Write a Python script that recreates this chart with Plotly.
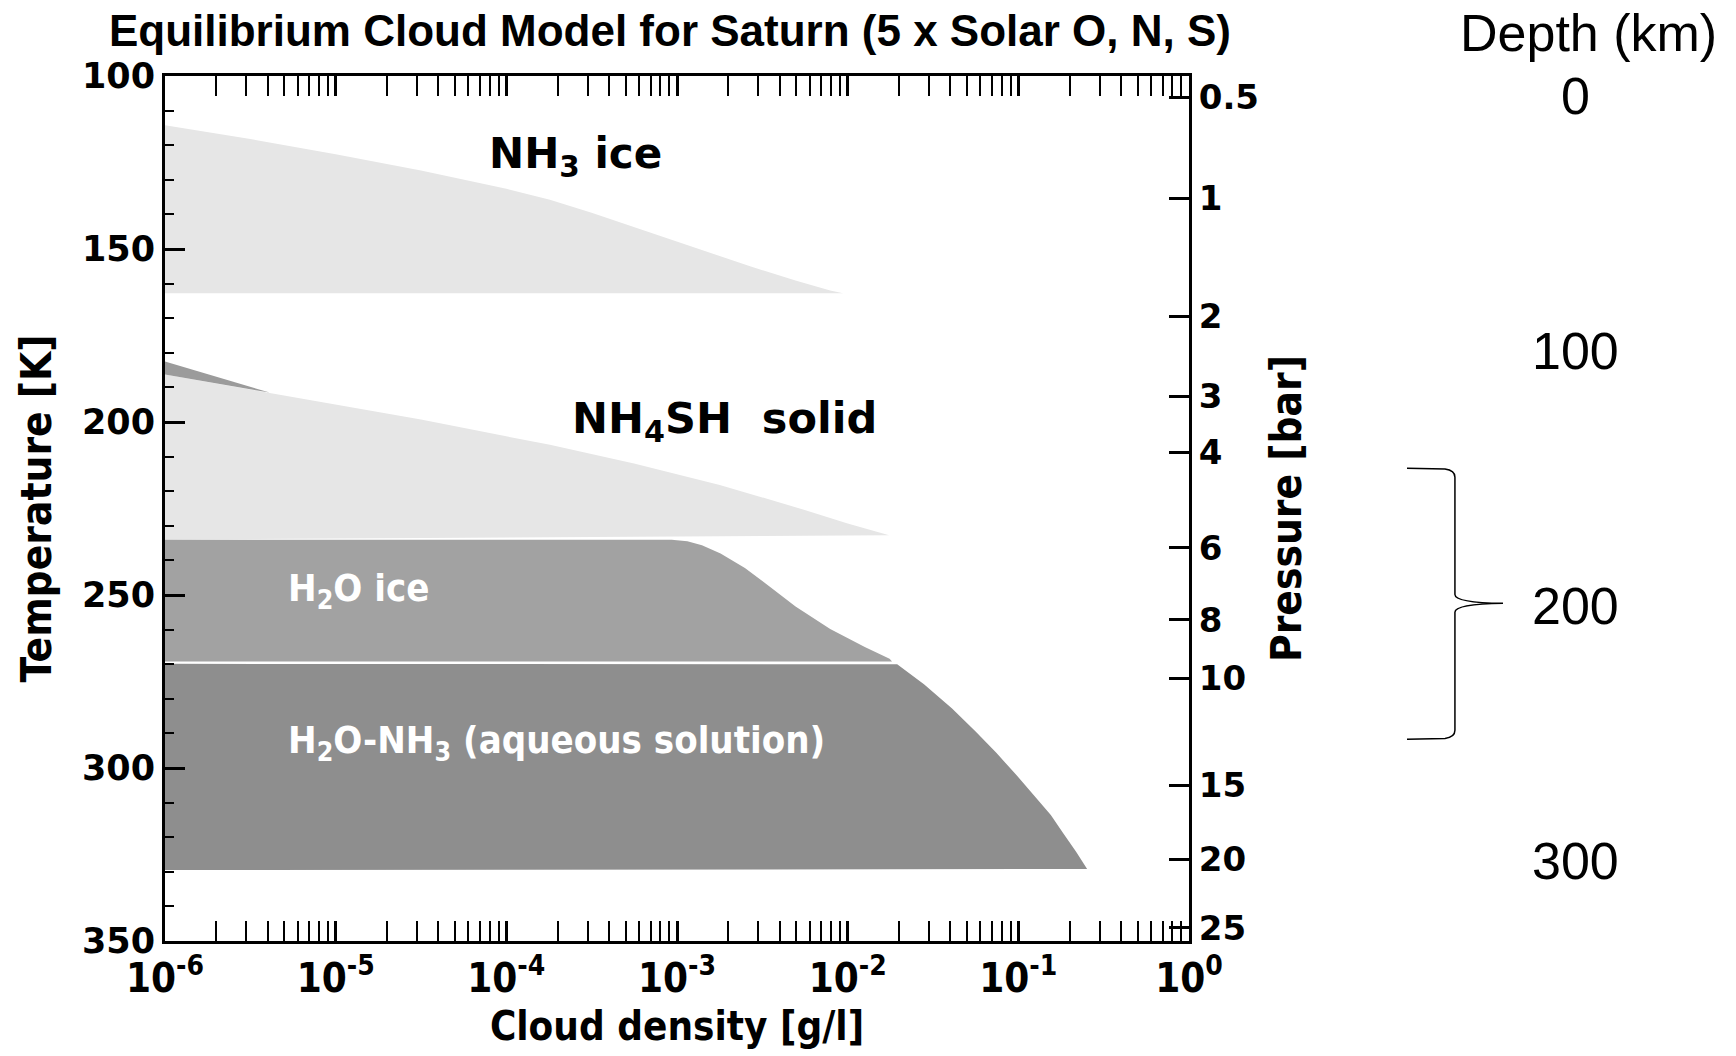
import plotly.graph_objects as go

# ---- cloud layers: density [g/l] vs temperature [K] ----
nh3_ice_density = [1.0e-6, 3.16e-6, 1.0e-5, 3.16e-5, 1.0e-4, 1.8e-4, 3.16e-4,
                   6.95e-4, 1.58e-3, 2.68e-3, 5.0e-3, 7.9e-3, 9.4e-3]
nh3_ice_top_T = [114.2, 118.2, 122.6, 127.3, 132.6, 135.8, 139.5,
                 145.2, 151.2, 155.0, 159.2, 162.0, 162.8]
nh3_ice_base_T = 162.8

nh4sh_density = [1.0e-6, 4.9e-6, 3.16e-5, 1.8e-4, 5.6e-4, 1.78e-3, 5.6e-3, 1.0e-2, 1.75e-2]
nh4sh_top_T = [186.3, 192.2, 199.3, 206.6, 212.0, 218.2, 225.4, 229.3, 232.7]
nh4sh_base_T = 234.0

nh4sh_upper_density = [1.0e-6, 4.1e-6, 1.0e-6]
nh4sh_upper_T = [182.5, 191.5, 186.3]

h2o_ice_density = [1.0e-6, 9.3e-4, 1.15e-3, 1.4e-3, 1.8e-3, 2.5e-3, 3.5e-3, 4.95e-3,
                   7.9e-3, 1.26e-2, 1.76e-2, 1.82e-2]
h2o_ice_T = [234.0, 234.0, 234.5, 235.6, 238.0, 242.2, 247.6, 253.3,
             259.8, 265.0, 268.4, 269.2]
h2o_ice_base_T = 269.2

aqueous_density = [1.0e-6, 1.95e-2, 2.8e-2, 4.09e-2, 5.6e-2, 7.43e-2, 9.8e-2,
                   0.1256, 0.155, 0.1824, 0.218, 0.253]
aqueous_T = [269.9, 270.0, 275.8, 282.8, 289.4, 295.6, 302.2,
             308.4, 313.6, 318.7, 324.2, 329.2]
aqueous_base_T = 329.5

# ---- axis ticks ----
temp_ticks = [100, 150, 200, 250, 300, 350]
density_ticks = [1e-6, 1e-5, 1e-4, 1e-3, 1e-2, 1e-1, 1e0]
density_labels = ["10<sup>-6</sup>", "10<sup>-5</sup>", "10<sup>-4</sup>", "10<sup>-3</sup>",
                  "10<sup>-2</sup>", "10<sup>-1</sup>", "10<sup>0</sup>"]
pressure_bar = ["0.5", "1", "2", "3", "4", "6", "8", "10", "15", "20", "25"]
pressure_T = [106.2, 135.3, 169.5, 192.6, 208.8, 236.4, 257.2, 274.0, 305.0, 326.3, 346.2]

depth_km = [0, 100, 200, 300]
depth_range = [331.4, -7.8]          # depth axis span over the plot height
brace_top_km, brace_mid_km, brace_bottom_km = 146.0, 199.0, 252.3

LIGHT = "#e6e6e6"
MID = "#a2a2a2"
DARK = "#8e8e8e"
SLIVER = "#9b9b9b"

HEAVY = "DejaVu Sans"
BOLD = "Liberation Sans"
NARROW = "Liberation Sans Narrow, DejaVu Sans Condensed, Liberation Sans"


def closed(xs, ys, base):
    """Close a layer outline back along its flat base."""
    return list(xs) + [xs[0]], list(ys) + [base]


fig = go.Figure()


def add_layer(xs, ys, color, name):
    fig.add_trace(go.Scatter(x=xs, y=ys, fill="toself", fillcolor=color, mode="lines",
                             line=dict(width=0, color=color), name=name,
                             hoverinfo="skip"))


add_layer(*closed(nh3_ice_density, nh3_ice_top_T, nh3_ice_base_T), LIGHT, "NH3 ice")
add_layer(*closed(nh4sh_density, nh4sh_top_T, nh4sh_base_T), LIGHT, "NH4SH solid")
add_layer(nh4sh_upper_density, nh4sh_upper_T, SLIVER, "NH4SH upper")
add_layer(*closed(h2o_ice_density, h2o_ice_T, h2o_ice_base_T), MID, "H2O ice")
add_layer(*closed(aqueous_density, aqueous_T, aqueous_base_T), DARK, "H2O-NH3")

# pressure axis shares the temperature scale
fig.add_trace(go.Scatter(x=[1e-6], y=[100], yaxis="y2", mode="markers",
                         marker=dict(opacity=0), hoverinfo="skip"))
# depth axis (hidden) for the depth labels
fig.add_trace(go.Scatter(x=[1e-6], y=[0], yaxis="y3", mode="markers",
                         marker=dict(opacity=0), hoverinfo="skip"))

fig.update_layout(
    width=1736, height=1056,
    margin=dict(l=165, r=547, t=76, b=115),
    paper_bgcolor="white", plot_bgcolor="white",
    showlegend=False,
    title=dict(text="Equilibrium Cloud Model for Saturn (5 x Solar O, N, S)",
               font=dict(family=BOLD, size=44, color="black", weight="bold"),
               x=670 / 1736, xanchor="center", y=1 - 31 / 1056, yanchor="middle"),
    xaxis=dict(type="log", range=[-6, 0], tickvals=density_ticks, ticktext=density_labels,
               ticks="inside", ticklen=20, tickwidth=2.5, tickcolor="black",
               showline=True, linewidth=3, linecolor="black", mirror="allticks",
               showgrid=False, zeroline=False,
               minor=dict(ticks="inside", ticklen=10, tickwidth=2, tickcolor="black",
                          dtick="D1", showgrid=False),
               tickfont=dict(family=NARROW, size=40, color="black", weight="bold"),
               title=dict(text="Cloud density [g/l]", standoff=12,
                          font=dict(family=NARROW, size=40, color="black", weight="bold"))),
    yaxis=dict(range=[350, 100], tickvals=temp_ticks,
               ticks="inside", ticklen=20, tickwidth=2.5, tickcolor="black",
               showline=True, linewidth=3, linecolor="black", mirror=False,
               showgrid=False, zeroline=False,
               minor=dict(ticks="inside", dtick=10, ticklen=9, tickwidth=2,
                          tickcolor="black", showgrid=False),
               tickfont=dict(family=HEAVY, size=35, color="black", weight="bold"),
               title=dict(text="Temperature [K]", standoff=18,
                          font=dict(family=NARROW, size=42, color="black", weight="bold"))),
    yaxis2=dict(range=[350, 100], overlaying="y", side="right",
                tickvals=pressure_T, ticktext=pressure_bar,
                ticks="inside", ticklen=20, tickwidth=2.5, tickcolor="black",
                showline=True, linewidth=3, linecolor="black",
                showgrid=False, zeroline=False,
                tickfont=dict(family=HEAVY, size=34, color="black", weight="bold"),
                title=dict(text="Pressure [bar]", standoff=14,
                           font=dict(family=NARROW, size=42, color="black", weight="bold"))),
    yaxis3=dict(range=depth_range, overlaying="y", visible=False),
)

# cloud layer labels
label_font = dict(family=HEAVY, size=42, color="black", weight="bold")
white_font = dict(family=NARROW, size=38, color="white", weight="bold")
fig.add_annotation(x=-4.113, y=123.4, xref="x", yref="y", xanchor="left", yanchor="middle",
                   text="NH<sub>3</sub> ice", showarrow=False, font=label_font)
fig.add_annotation(x=-3.627, y=199.7, xref="x", yref="y", xanchor="left", yanchor="middle",
                   text="NH<sub>4</sub>SH&nbsp; solid", showarrow=False,
                   font=dict(label_font, size=43))
fig.add_annotation(x=-5.29, y=248.6, xref="x", yref="y", xanchor="left", yanchor="middle",
                   text="H<sub>2</sub>O ice", showarrow=False, font=white_font)
fig.add_annotation(x=-5.29, y=292.5, xref="x", yref="y", xanchor="left", yanchor="middle",
                   text="H<sub>2</sub>O-NH<sub>3</sub> (aqueous solution)", showarrow=False,
                   font=white_font)

# depth scale on the far right
depth_font = dict(family="Liberation Sans", size=52, color="black")
fig.add_annotation(x=1.3906, y=1.0497, xref="paper", yref="paper", xanchor="center",
                   yanchor="middle", text="Depth (km)", showarrow=False, font=depth_font)
for d in depth_km:
    fig.add_annotation(x=1.377, y=d, xref="paper", yref="y3", xanchor="center",
                       yanchor="middle", text=str(d), showarrow=False, font=depth_font)

# curly brace marking the cloud-forming depth range
bx0, bx1, bx2, bx3 = 1.2129, 1.2500, 1.2597, 1.3066
t, m, b = brace_top_km, brace_mid_km, brace_bottom_km
path = (f"M {bx0},{t} L {bx1},{t + 0.3} Q {bx2},{t + 0.8} {bx2},{t + 3.5} "
        f"L {bx2},{m - 3.5} Q {bx2},{m - 0.3} {bx3},{m} "
        f"Q {bx2},{m + 0.3} {bx2},{m + 3.5} "
        f"L {bx2},{b - 3.5} Q {bx2},{b - 0.8} {bx1},{b - 0.3} L {bx0},{b}")
fig.add_shape(type="path", path=path, xref="paper", yref="y3",
              line=dict(color="black", width=1.5))

fig.write_html("out.html")
